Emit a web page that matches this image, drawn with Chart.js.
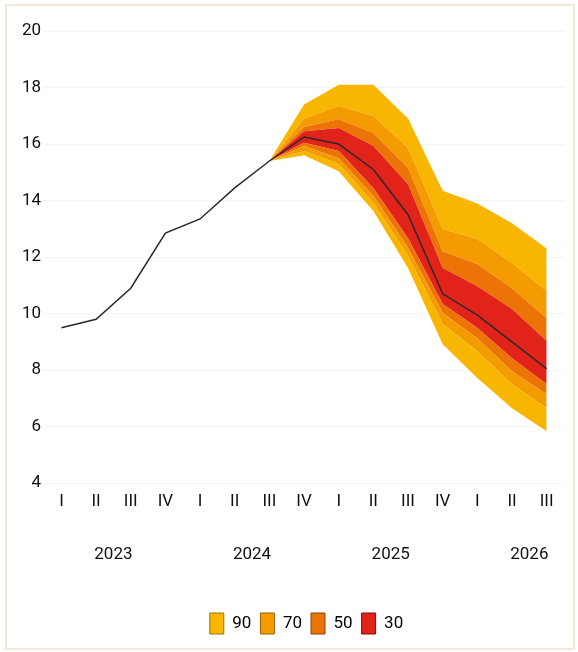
<!DOCTYPE html>
<html lang="es">
<head>
  <meta charset="UTF-8" />
  <title>Fan chart</title>
  <script src="https://cdn.jsdelivr.net/npm/chart.js"></script>
  <style>
    body { margin: 0; background: #fff; }
    #frame { position: absolute; left: 5px; top: 4px; width: 566px; height: 642px; border: 2px solid #f4e8d8; }
    canvas { position: absolute; left: 0; top: 0; }
  </style>
</head>
<body>
  <div id="frame"></div>
  <canvas id="fan" width="578" height="652"></canvas>

  <script>
    const quarters = ['I','II','III','IV','I','II','III','IV','I','II','III','IV','I','II','III'];
    const years = ['2023','2024','2025','2026'];
    const yearPos = [1.5, 5.5, 9.5, 13.5];

    // central path
    const central = [9.5, 9.8, 10.9, 12.85, 13.35, 14.45, 15.4, 16.25, 16.0, 15.1, 13.5, 10.7, 9.95, 9.0, 8.05];

    // bands (from 2024 III onward)
    const upper90 = [null,null,null,null,null,null, 15.4, 17.4, 18.1, 18.1, 16.9, 14.35, 13.9, 13.2, 12.3];
    const upper70 = [null,null,null,null,null,null, 15.4, 16.9, 17.35, 16.99, 15.86, 12.99, 12.64, 11.79, 10.8];
    const upper50 = [null,null,null,null,null,null, 15.4, 16.6, 16.88, 16.39, 15.15, 12.21, 11.75, 10.9, 9.84];
    const upper30 = [null,null,null,null,null,null, 15.4, 16.45, 16.57, 15.93, 14.58, 11.61, 10.97, 10.16, 9.03];
    const lower30 = [null,null,null,null,null,null, 15.4, 16.05, 15.75, 14.44, 12.67, 10.34, 9.49, 8.42, 7.5];
    const lower50 = [null,null,null,null,null,null, 15.4, 15.93, 15.5, 14.16, 12.32, 10.02, 9.13, 7.96, 7.15];
    const lower70 = [null,null,null,null,null,null, 15.4, 15.75, 15.29, 13.91, 12.04, 9.63, 8.67, 7.5, 6.65];
    const lower90 = [null,null,null,null,null,null, 15.4, 15.6, 15.04, 13.63, 11.61, 8.92, 7.72, 6.65, 5.84];

    const bandNames = ['90', '70', '50', '30'];
    const bandColors = ['#f8b600', '#f39b00', '#ec7306', '#e2231a'];
    const bandBorders = ['#9a7400', '#9a6200', '#8f4500', '#7a0e0a'];

    const FONT = { family: "Roboto, sans-serif", size: 17 };

    function band(data, color) {
      return { data: data, fill: '-1', backgroundColor: color, borderWidth: 0, pointRadius: 0, tension: 0, order: 1 };
    }

    // el recuadro de leyenda va algo a la derecha del centro
    const shiftLegend = {
      id: 'shiftLegend',
      afterLayout(chart) {
        chart.legend.left += 15;
        chart.legend.right += 15;
      }
    };

    new Chart(document.getElementById('fan').getContext('2d'), {
      type: 'line',
      data: {
        labels: quarters,
        datasets: [
          { data: lower90, fill: false, borderWidth: 0, pointRadius: 0, order: 1 },
          band(lower70, bandColors[0]),
          band(lower50, bandColors[1]),
          band(lower30, bandColors[2]),
          band(upper30, bandColors[3]),
          band(upper50, bandColors[2]),
          band(upper70, bandColors[1]),
          band(upper90, bandColors[0]),
          { data: central, fill: false, borderColor: '#2a2a2a', borderWidth: 1.5, pointRadius: 0, tension: 0, order: 0 }
        ]
      },
      plugins: [shiftLegend],
      options: {
        responsive: false,
        animation: false,
        layout: { padding: { top: 31, right: 14, left: 19, bottom: 8 } },
        plugins: {
          tooltip: { enabled: false },
          legend: {
            position: 'bottom',
            labels: {
              boxWidth: 14,
              boxHeight: 21,
              padding: 9,
              color: '#111',
              font: FONT,
              generateLabels: () => bandNames.map((n, i) => ({
                text: n,
                fillStyle: bandColors[i],
                strokeStyle: bandBorders[i],
                lineWidth: 1,
                hidden: false
              }))
            }
          }
        },
        scales: {
          x: {
            offset: true,
            grid: { display: false },
            border: { display: false },
            ticks: { color: '#111', font: FONT, padding: 0, maxRotation: 0, autoSkip: false }
          },
          x2: {
            type: 'linear',
            position: 'bottom',
            min: -0.5,
            max: 14.5,
            grid: { display: false },
            border: { display: false },
            afterBuildTicks: axis => { axis.ticks = yearPos.map(v => ({ value: v })); },
            afterFit: axis => { axis.height += 14; },
            ticks: {
              color: '#111',
              font: FONT,
              padding: 25,
              callback: (v, i) => years[i]
            }
          },
          y: {
            min: 4,
            max: 20,
            grid: { color: '#f3f3f3', drawTicks: false },
            border: { display: false },
            ticks: { stepSize: 2, color: '#111', font: FONT, padding: 3 }
          }
        }
      }
    });
  </script>
</body>
</html>
